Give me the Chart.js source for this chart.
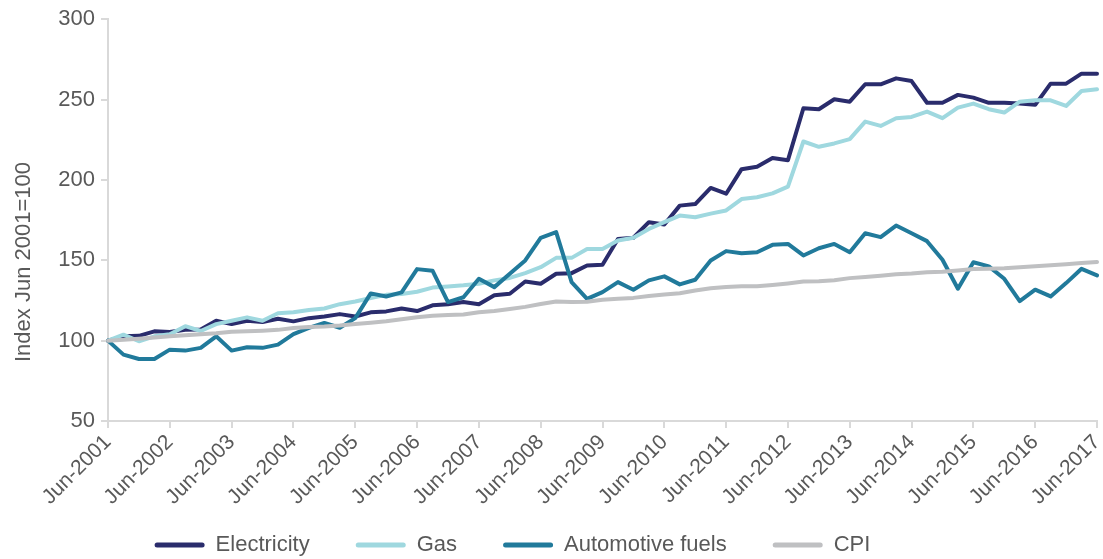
<!DOCTYPE html>
<html>
<head>
<meta charset="utf-8">
<script src="https://cdn.jsdelivr.net/npm/chart.js@4.4.1/dist/chart.umd.min.js"></script>
<style>
  html, body { margin: 0; padding: 0; background: #fff; }
  #wrap { width: 1103px; height: 559px; position: relative; }
</style>
</head>
<body>
<div id="wrap"><canvas id="chart" width="1103" height="559"></canvas></div>
<script>
// ---- Data (quarterly, index Jun 2001 = 100) ----
const quarters = [
  'Jun-2001','Sep-2001','Dec-2001','Mar-2002',
  'Jun-2002','Sep-2002','Dec-2002','Mar-2003',
  'Jun-2003','Sep-2003','Dec-2003','Mar-2004',
  'Jun-2004','Sep-2004','Dec-2004','Mar-2005',
  'Jun-2005','Sep-2005','Dec-2005','Mar-2006',
  'Jun-2006','Sep-2006','Dec-2006','Mar-2007',
  'Jun-2007','Sep-2007','Dec-2007','Mar-2008',
  'Jun-2008','Sep-2008','Dec-2008','Mar-2009',
  'Jun-2009','Sep-2009','Dec-2009','Mar-2010',
  'Jun-2010','Sep-2010','Dec-2010','Mar-2011',
  'Jun-2011','Sep-2011','Dec-2011','Mar-2012',
  'Jun-2012','Sep-2012','Dec-2012','Mar-2013',
  'Jun-2013','Sep-2013','Dec-2013','Mar-2014',
  'Jun-2014','Sep-2014','Dec-2014','Mar-2015',
  'Jun-2015','Sep-2015','Dec-2015','Mar-2016',
  'Jun-2016','Sep-2016','Dec-2016','Mar-2017',
  'Jun-2017'
];

const electricity = [
  100, 102.7, 103, 105.8, 105.4, 106.8, 107, 112.4,
  110.3, 112.4, 111.6, 113.6, 112, 114, 115, 116.5,
  115, 117.6, 118.2, 120, 118.4, 122, 122.6, 124,
  122.6, 128.2, 129.2, 136.8, 135.4, 141.6, 142, 146.8,
  147.2, 163.3, 164, 173.7, 172.2, 184, 185, 195,
  191.4, 206.7, 208.2, 213.6, 212.3, 244.6, 244, 250.2,
  248.7, 259.5, 259.5, 263.2, 261.5, 248, 248, 252.9,
  251.2, 248, 248, 247.5, 246.7, 259.9, 259.9, 266.1,
  266.1
];

const gas = [
  100, 103.7, 99.6, 102.7, 104, 109, 106, 110.3,
  112.4, 114.5, 112.4, 117, 117.6, 119, 120, 122.7,
  124.4, 126.5, 128.5, 129, 130.4, 133, 133.7, 134.4,
  135.4, 137.5, 139, 142, 145.7, 151.5, 151.5, 157,
  157, 162.3, 164, 169.5, 173.7, 177.8, 176.8, 179,
  181, 188.1, 189.2, 191.6, 195.8, 223.9, 220.6, 222.7,
  225.4, 236.3, 233.6, 238.4, 239.2, 242.5, 238.4, 245,
  247.5, 244, 241.9, 248.7, 249.5, 249.5, 246, 255.3,
  256.4
];

const autoFuels = [
  100, 91.3, 88.6, 88.6, 94.4, 93.8, 95.5, 102.7,
  93.8, 95.9, 95.5, 97.5, 104, 107.9, 111, 108,
  114, 129.4, 127.5, 130, 144.5, 143.5, 124, 127,
  138.5, 133.3, 141.6, 149.9, 164, 167.5, 136.4, 126,
  130.2, 136.4, 131.7, 137.5, 140, 135, 137.9, 149.9,
  155.7, 154.4, 155, 159.6, 160.2, 153, 157.5, 160.2,
  155, 166.8, 164.4, 171.6, 166.8, 161.9, 150.3, 132.3,
  148.8, 146.2, 138.5, 124.6, 131.7, 127.5, 135.8, 144.7,
  140.6
];

const cpi = [
  100, 100.6, 101.2, 102, 102.8, 103.4, 104, 104.6,
  105.6, 105.8, 106.2, 106.7, 107.8, 108.5, 108.8, 109.4,
  110.4, 111.2, 112, 113.3, 114.5, 115.5, 116, 116.2,
  117.6, 118.5, 119.7, 121, 122.8, 124.4, 124, 124.2,
  125.5, 126, 126.6, 127.8, 128.7, 129.5, 131.2, 132.6,
  133.4, 133.8, 133.8, 134.6, 135.6, 136.8, 137, 137.6,
  138.9, 139.6, 140.4, 141.3, 141.8, 142.6, 142.8, 143.6,
  144.6, 144.8, 145, 145.6, 146.3, 146.9, 147.6, 148.3,
  149
];

const yTicks = [50, 100, 150, 200, 250, 300];
const yTitle = 'Index Jun 2001=100';

// ---- Styles ----
const TEXT  = '#595959';
const AXIS  = '#d9d9d9';
const FONT  = "'Liberation Sans', Arial, sans-serif";

function series(label, data, color, order) {
  return {
    label: label,
    data: data,
    borderColor: color,
    backgroundColor: color,
    borderWidth: 4,
    pointRadius: 0,
    tension: 0,
    borderJoinStyle: 'round',
    borderCapStyle: 'round',
    order: order
  };
}

// y-axis title drawn by hand so it sits where the original has it
const yTitlePlugin = {
  id: 'yTitle',
  afterDraw: function (chart) {
    const ctx = chart.ctx;
    ctx.save();
    ctx.translate(24, 262);
    ctx.rotate(-Math.PI / 2);
    ctx.font = '22px ' + FONT;
    ctx.fillStyle = TEXT;
    ctx.textAlign = 'center';
    ctx.textBaseline = 'middle';
    ctx.fillText(yTitle, 0, 0);
    ctx.restore();
  }
};

// legend sits a bit left of centre; x labels may run into the legend band
const layoutTweaks = {
  id: 'layoutTweaks',
  afterLayout: function (chart) {
    chart.legend.left  -= 39;
    chart.legend.right -= 39;
    chart.scales.x.bottom = chart.height;
  }
};

new Chart(document.getElementById('chart').getContext('2d'), {
  type: 'line',
  data: {
    labels: quarters,
    datasets: [
      series('Electricity', electricity, '#2a2c6c', 4),
      series('Gas', gas, '#9fd8df', 3),
      series('Automotive fuels', autoFuels, '#217a9b', 2),
      series('CPI', cpi, '#bfc0c2', 1)
    ]
  },
  options: {
    responsive: false,
    animation: false,
    layout: { padding: { left: 0, right: 0, top: 17, bottom: -7 } },
    plugins: {
      legend: {
        position: 'bottom',
        labels: {
          font: { family: FONT, size: 22 },
          color: TEXT,
          boxWidth: 50,
          boxHeight: 5,
          padding: 46,
          sort: function (a, b) { return a.datasetIndex - b.datasetIndex; },
          generateLabels: function (chart) {
            return Chart.defaults.plugins.legend.labels.generateLabels(chart).map(function (l) {
              l.lineWidth = 0;
              l.fillStyle = l.strokeStyle;
              l.borderRadius = 2.5;
              return l;
            });
          }
        }
      },
      tooltip: { enabled: false }
    },
    scales: {
      x: {
        offset: false,
        border: { color: AXIS, width: 2 },
        grid: { display: true, drawOnChartArea: false, drawTicks: true, tickLength: 7, color: AXIS, lineWidth: 2 },
        ticks: {
          autoSkip: false,
          maxRotation: 45,
          minRotation: 45,
          color: TEXT,
          padding: 2,
          font: { family: FONT, size: 21 },
          callback: function (val, i) { return i % 4 === 0 ? quarters[i] : null; }
        },
        afterFit: function (scale) {
          scale.height = 67;
          scale.paddingRight = 6;
          scale.paddingLeft = 0;
        }
      },
      y: {
        min: 50,
        max: 300,
        border: { color: AXIS, width: 2 },
        grid: { display: true, drawOnChartArea: false, drawTicks: true, tickLength: 7, color: AXIS, lineWidth: 2 },
        afterBuildTicks: function (scale) {
          scale.ticks = yTicks.map(function (v) { return { value: v }; });
        },
        ticks: {
          color: TEXT,
          padding: 6,
          font: { family: FONT, size: 22 }
        },
        afterFit: function (scale) { scale.width = 108; }
      }
    }
  },
  plugins: [yTitlePlugin, layoutTweaks]
});
</script>
</body>
</html>
